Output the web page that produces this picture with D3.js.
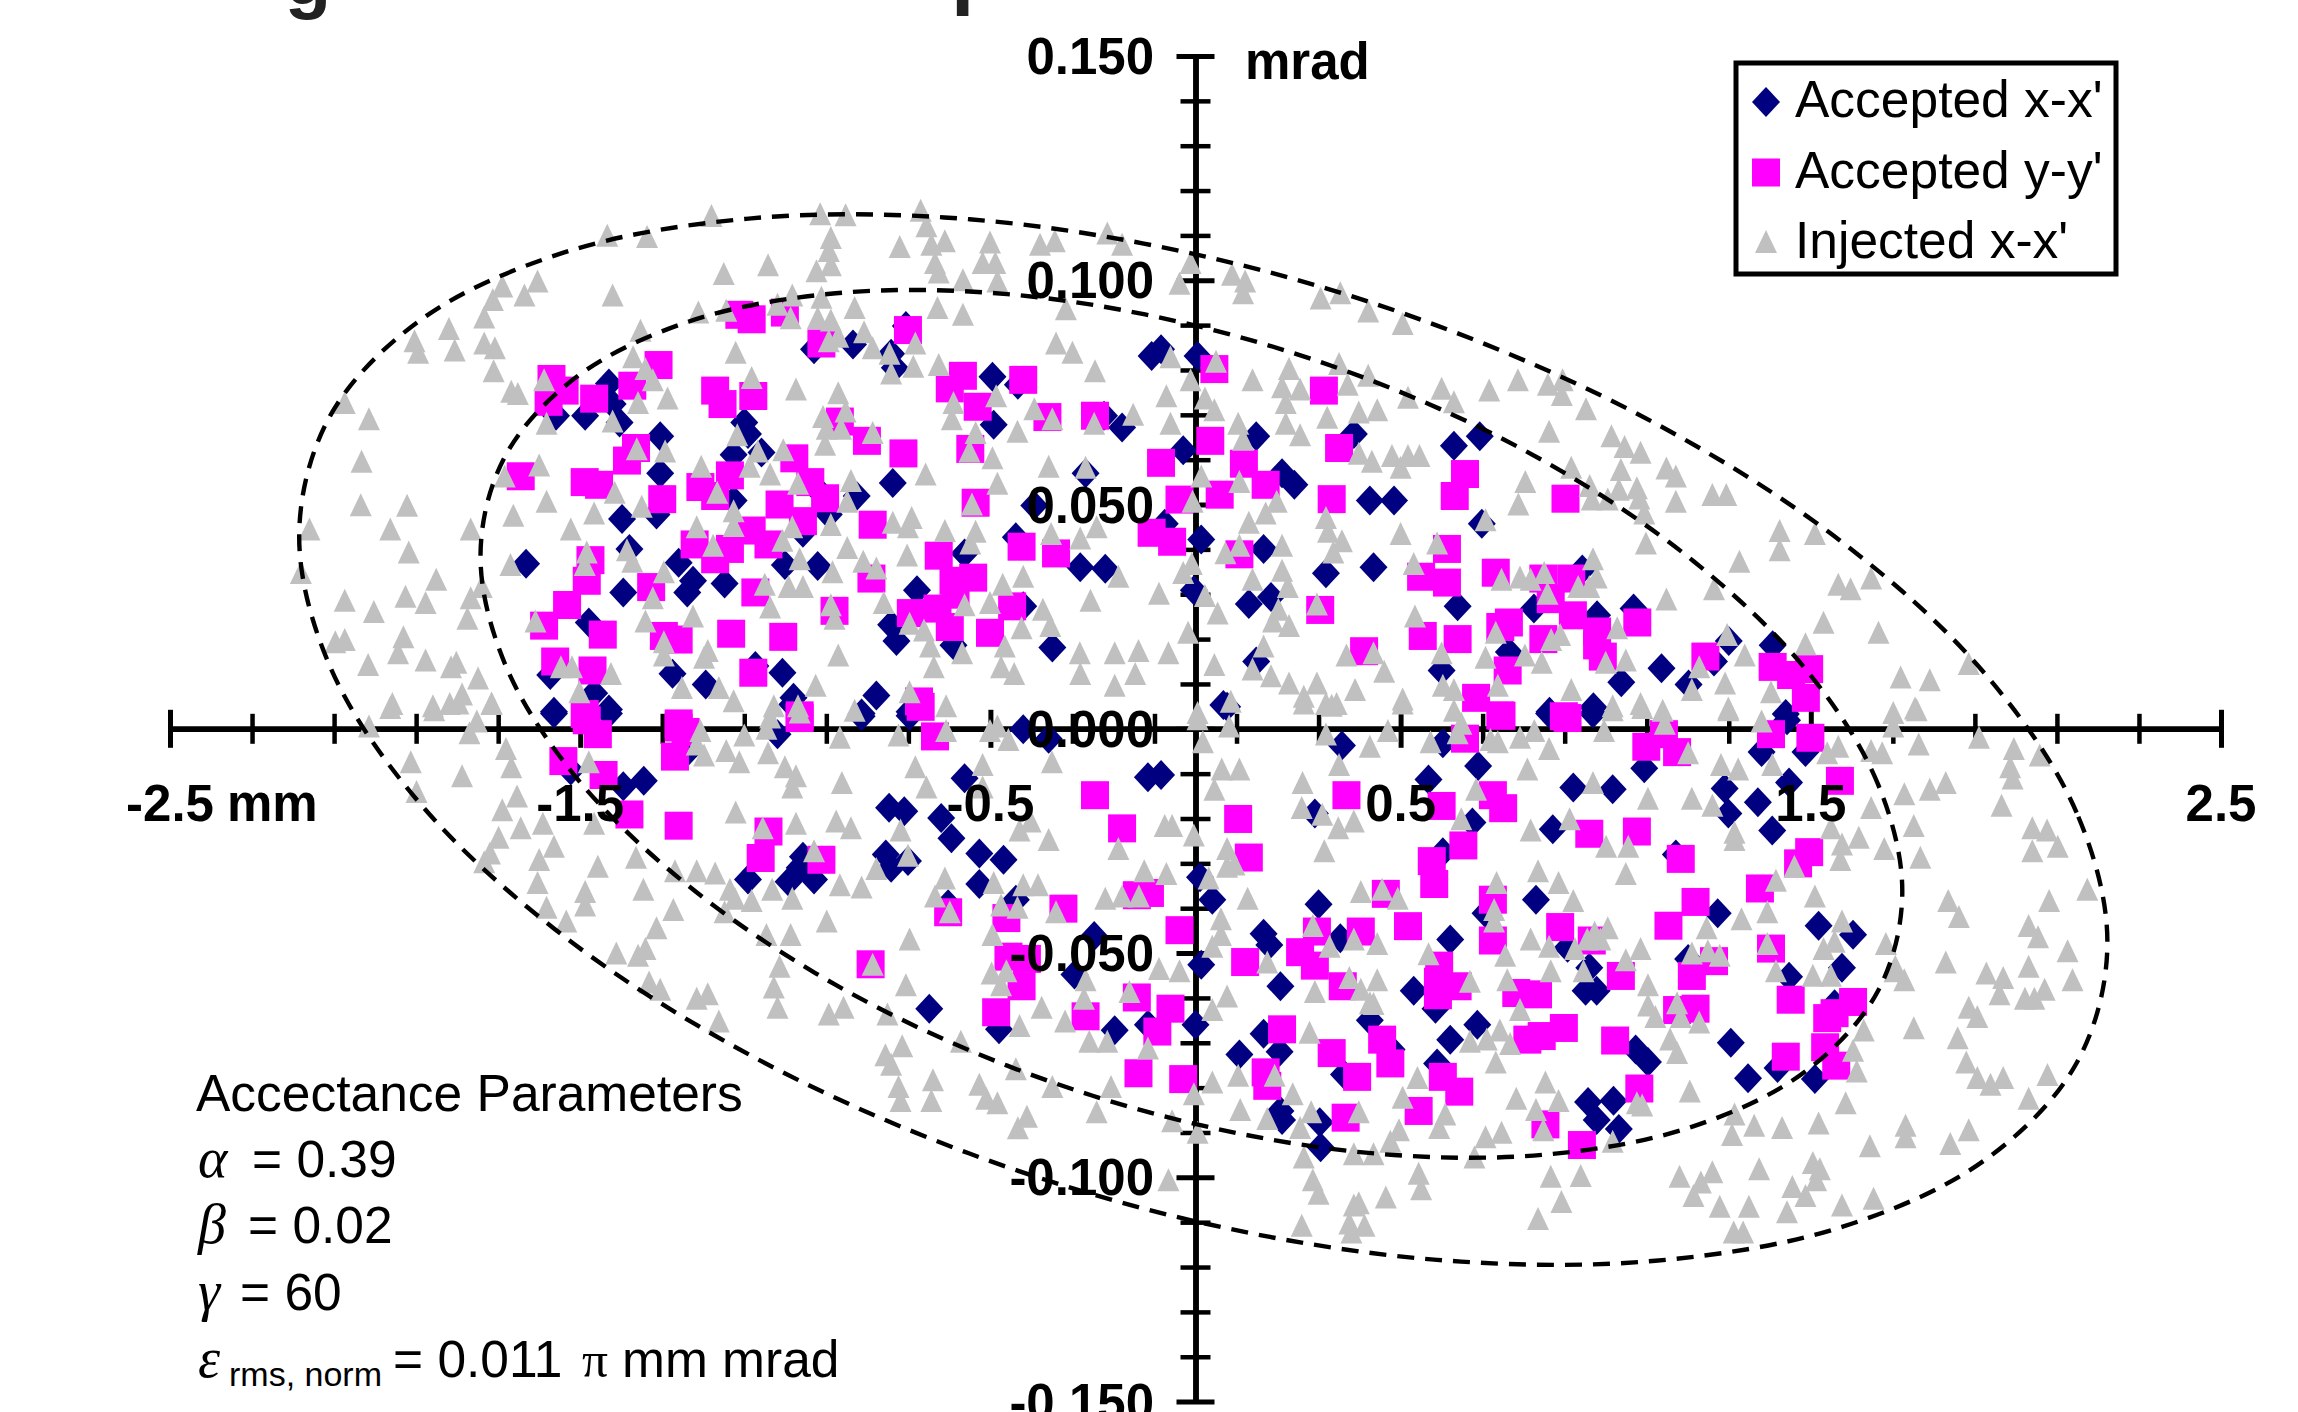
<!DOCTYPE html>
<html>
<head>
<meta charset="utf-8">
<script src="https://cdnjs.cloudflare.com/ajax/libs/d3/7.8.5/d3.min.js"></script>
<style>
  html, body { margin: 0; padding: 0; background: #fff; }
  svg { display: block; }
  text { font-family: "Liberation Sans", Arial, sans-serif; fill: #000; }
  .greek { font-family: "Liberation Serif", serif; font-style: italic; font-size: 56px; }
</style>
</head>
<body>
<div id="chart-area"></div>
<script>
// x in mm, y as labelled on the vertical axis
const xMajorTicks = [-2.5, -1.5, -0.5, 0.5, 1.5, 2.5];
const xMinorTicks = [-2.3, -2.1, -1.9, -1.7, -1.3, -1.1, -0.9, -0.7, -0.3, -0.1, 0.1, 0.3, 0.7, 0.9, 1.1, 1.3, 1.7, 1.9, 2.1, 2.3];
const yMajorTicks = [0.15, 0.1, 0.05, 0, -0.05, -0.1, -0.15];
const yMinorTicks = [0.14, 0.13, 0.12, 0.11, 0.09, 0.08, 0.07, 0.06, 0.04, 0.03, 0.02, 0.01, -0.01, -0.02, -0.03, -0.04, -0.06, -0.07, -0.08, -0.09, -0.11, -0.12, -0.13, -0.14];

const legendLabels = ["Accepted x-x'", "Accepted y-y'", "Injected x-x'"];

const acceptedXX = [
[-.084,.0846],[.005,.0831],[.148,.0652],[-.030,.0621],[.386,.0657],[.211,.0570],[.241,.0544],[.425,.0509],[.484,.0509],[.693,.0652],[.630,.0631],[-.075,.0457],[.014,.0422],[.166,.0401],[.698,.0457],[.434,.0360],[.318,.0347],[.130,.0278],[.184,.0294],[-.004,.0309],[.639,.0273],[.825,.0268],[.943,.0355],[.979,.0253],[1.068,.0268],[.764,.0171],[.600,.0130],[.148,.0150],[1.136,.0135],[1.038,.0104],[1.202,.0099],[1.300,.0196],[1.264,.0150],[1.407,.0186],[.068,.0053],[.863,.0038],[.970,.0048],[1.439,.0033],
[-.706,.0898],[-.835,.0857],[-.930,.0846],[-.742,.0836],[-.733,.0805],[-.495,.0785],[-.433,.0767],[-.223,.0698],[-.179,.0672],[-1.430,.0770],[-1.421,.0724],[-1.559,.0698],[-1.488,.0698],[-1.404,.0683],[-1.305,.0652],[-1.100,.0683],[-1.091,.0657],[-1.126,.0611],[-1.058,.0616],[-.492,.0678],[-1.305,.0570],[-.738,.0548],[-.826,.0519],[-.912,.0524],[-.268,.0570],[-1.126,.0509],[-1.398,.0468],[-1.314,.0478],[-.894,.0478],[-.393,.0498],[-.957,.0437],[-.438,.0427],[-1.632,.0368],[-1.380,.0401],[-.563,.0391],[-1.001,.0365],[-.921,.0363],[-.281,.0360],[-.220,.0357],[-1.260,.0370],[-1.225,.0330],[-1.239,.0304],[-1.395,.0304],[-1.148,.0324],[-.679,.0309],[-.420,.0273],[-1.479,.0237],[-.742,.0232],[-.729,.0196],[-.590,.0186],[-.349,.0181],[-1.194,.0099],[-1.275,.0123],[-1.007,.0125],[-1.073,.0140],[-1.573,.0120],[-1.466,.0079],[-.778,.0074],[-.980,.0069],[-1.430,.0043],[-1.564,.0038],[-.814,.0028],[-.697,.0038],[-.107,.0831],
[-1.564,.0034],[-1.430,.0034],[-.983,.0054],[-.814,.0034],[-.697,.0029],[-1.019,-.0012],[-1.234,-.0047],[-.420,-.0001],[-.358,-.0022],[-1.523,-.0093],[-1.345,-.0116],[-1.395,-.0128],[-.563,-.0110],[-.747,-.0176],[-.710,-.0184],[-.620,-.0199],[-.595,-.0244],[-.527,-.0278],[-.468,-.0292],[-.755,-.0280],[-.701,-.0295],[-.742,-.0310],[-.957,-.0285],[-.965,-.0310],[-.930,-.0336],[-.992,-.0341],[-1.091,-.0336],[-.527,-.0346],[-.438,-.0381],[-.603,-.0391],[-.247,-.0462],[-.295,-.0548],[-.649,-.0624],[-.479,-.0670],[-.197,-.0672],[-.116,-.0108],[-.116,-.0660],
[.077,.0049],[.357,-.0037],[.603,-.0032],[.689,-.0083],[.568,-.0113],[.291,-.0189],[.921,-.0131],[1.017,-.0135],[.871,-.0224],[.675,-.0209],[1.290,-.0133],[1.371,-.0164],[1.447,-.0120],[1.299,-.0189],[1.406,-.0227],[1.380,-.0052],[1.094,-.0088],[1.487,-.0052],[1.442,.0019],[.969,.0034],[.862,.0034],[.603,-.0275],[1.171,-.0280],[.300,-.0391],[.830,-.0381],[1.273,-.0411],[.707,-.0411],[.011,-.0331],[.041,-.0381],[.166,-.0457],[.180,-.0482],[.014,-.0526],[.621,-.0470],[.353,-.0467],[.207,-.0574],[.532,-.0584],[.585,-.0624],[1.519,-.0439],[1.603,-.0459],[1.576,-.0533],[1.447,-.0553],[1.201,-.0513],[.960,-.0533],[.907,-.0488],[.978,-.0584],[.951,-.0584],[0,-.0660],[.425,-.0650],[.687,-.0660],[.621,-.0693],[.166,-.0680],[.107,-.0726],[.205,-.0720],[.362,-.0771],[.478,-.0715],[.589,-.0746],[1.305,-.0700],[1.073,-.0715],[1.103,-.0743],[1.347,-.0779],[1.419,-.0756],[1.510,-.0781],[1.558,-.0614],[.957,-.0832],[1.019,-.0829],[.978,-.0872],[1.032,-.0892],[.207,-.0852],[.211,-.0872],[.303,-.0877],[.305,-.0933],[-.084,-.0103]
];

const acceptedYY = [
[.046,.0802],[.313,.0754],[.036,.0642],[.350,.0626],[.118,.0591],[-.084,.0593],[.657,.0568],[.171,.0544],[.059,.0522],[-.039,.0511],[.332,.0512],[.632,.0519],[.902,.0513],[.613,.0401],[-.057,.0417],[.107,.0389],[.304,.0265],[.550,.0339],[.613,.0326],[.732,.0348],[.848,.0335],[.916,.0335],[.866,.0289],[.920,.0253],[.764,.0237],[.743,.0227],[.554,.0207],[.639,.0200],[.411,.0173],[.848,.0200],[.979,.0217],[1.077,.0237],[.979,.0186],[.993,.0161],[1.243,.0161],[.761,.0130],[1.407,.0138],[1.496,.0133],[1.452,.0120],[1.488,.0069],[.684,.0069],[.743,.0030],[.898,.0028],
[-1.112,.0923],[-1.082,.0913],[-1.001,.0928],[-.701,.0889],[-.912,.0859],[-1.309,.0811],[-1.570,.0780],[-1.373,.0765],[-1.538,.0754],[-1.466,.0736],[-1.577,.0729],[-1.171,.0754],[-1.153,.0724],[-1.078,.0742],[-.567,.0787],[-.599,.0759],[-.420,.0778],[-.531,.0718],[-.361,.0695],[-.245,.0698],[-.867,.0685],[-.801,.0642],[-.712,.0614],[-.549,.0624],[-.978,.0603],[-1.364,.0626],[-1.386,.0598],[-1.645,.0563],[-1.489,.0550],[-1.454,.0544],[-1.135,.0565],[-1.207,.0539],[-1.300,.0512],[-1.171,.0519],[-.939,.0550],[-.903,.0514],[-1.014,.0500],[-.957,.0463],[-.536,.0504],[-.787,.0455],[-1.082,.0442],[-1.041,.0411],[-1.221,.0411],[-1.135,.0401],[-1.171,.0378],[-.626,.0386],[-.424,.0406],[-.340,.0391],[-.107,.0437],[-1.475,.0376],[-1.484,.0330],[-1.327,.0316],[-.790,.0335],[-1.073,.0304],[-.590,.0330],[-.542,.0337],[-.585,.0299],[-1.532,.0276],[-.880,.0263],[-.447,.0273],[-.694,.0258],[-.629,.0268],[-.599,.0227],[-1.588,.0230],[-1.445,.0210],[-1.296,.0207],[-1.260,.0199],[-1.132,.0212],[-1.005,.0205],[-.501,.0214],[-1.561,.0150],[-1.470,.0130],[-1.078,.0125],[-.674,.0061],[-1.489,.0033],[-1.260,.0012],[-.965,.0030],
[-1.260,.0003],[-1.243,-.0007],[-1.484,.0019],[-1.457,-.0012],[-1.269,-.0062],[-1.541,-.0072],[-1.443,-.0103],[-.965,.0024],[-.635,-.0017],[-.670,.0049],[-1.380,-.0191],[-1.260,-.0216],[-1.041,-.0229],[-1.060,-.0288],[-.912,-.0292],[-.245,-.0148],[-.179,-.0222],[-.143,-.0371],[-.322,-.0401],[-.603,-.0409],[-.461,-.0422],[-.792,-.0525],[-.456,-.0508],[-.411,-.0513],[-.424,-.0574],[-.143,-.0599],[-.486,-.0632],[-.268,-.0641],[-.139,-.0768],
[1.142,-.0012],[1.099,-.0040],[1.174,-.0052],[1.403,-.0012],[1.499,-.0020],[.657,-.0022],[.746,.0029],[.907,.0024],[1.571,-.0116],[.368,-.0148],[.600,-.0172],[.725,-.0148],[.750,-.0177],[.104,-.0201],[.130,-.0287],[.960,-.0234],[1.076,-.0229],[.653,-.0260],[.576,-.0295],[.582,-.0346],[1.183,-.0290],[1.469,-.0300],[1.496,-.0275],[1.376,-.0356],[.464,-.0368],[.725,-.0381],[1.219,-.0386],[1.153,-.0439],[.889,-.0442],[.518,-.0440],[.966,-.0472],[.725,-.0472],[.403,-.0452],[.296,-.0452],[.255,-.0498],[.291,-.0528],[.121,-.0520],[-.039,-.0449],[-.111,-.0366],[1.403,-.0490],[1.264,-.0518],[1.210,-.0551],[1.037,-.0551],[.594,-.0528],[.591,-.0564],[.639,-.0574],[.591,-.0594],[.782,-.0589],[.835,-.0592],[1.451,-.0604],[1.603,-.0609],[1.558,-.0634],[1.540,-.0645],[1.219,-.0624],[1.174,-.0627],[-.061,-.0624],[-.093,-.0675],[.359,-.0574],[.211,-.0670],[.332,-.0723],[.455,-.0693],[.475,-.0746],[.394,-.0776],[.171,-.0766],[.175,-.0796],[-.030,-.0781],[.603,-.0776],[.643,-.0809],[.544,-.0852],[.366,-.0867],[1.023,-.0695],[.898,-.0667],[.844,-.0685],[.809,-.0693],[1.439,-.0731],[1.535,-.0710],[1.562,-.0751],[1.082,-.0802],[.853,-.0882],[.942,-.0928]
];

const injectedXX = [
[-.012,.1036],[.089,.1010],[-.039,.0990],[.121,.0995],[.116,.0969],[.305,.0957],[.353,.0969],[.421,.0928],[.505,.0900],[.350,.0811],[.228,.0800],[.050,.0816],[-.061,.0826],[.139,.0775],[.211,.0759],[.255,.0754],[.371,.0765],[.421,.0785],[-.012,.0775],[-.071,.0739],[.023,.0734],[.046,.0708],[.220,.0724],[.518,.0736],[.600,.0756],[.630,.0726],[.716,.0752],[.786,.0775],[.859,.0765],[.895,.0775],[.893,.0742],[.952,.0710],[.398,.0703],[.443,.0708],[.321,.0691],[.104,.0678],[-.061,.0678],[.220,.0678],[.255,.0652],[.116,.0642],[.862,.0660],[1.014,.0650],[1.046,.0626],[1.085,.0613],[1.037,.0575],[1.148,.0578],[1.171,.0560],[.916,.0580],[.398,.0611],[.430,.0593],[.479,.0606],[.518,.0606],[.546,.0606],[.500,.0580],[.014,.0560],[.107,.0548],[.804,.0548],[.961,.0539],[1.076,.0534],[1.032,.0531],[1.005,.0509],[1.082,.0511],[.966,.0509],[.787,.0498],[1.171,.0504],[1.260,.0519],[1.294,.0519],[-.007,.0504],[.198,.0504],[1.094,.0478],[.171,.0478],[.318,.0468],[.130,.0457],[.323,.0437],[.707,.0463],[1.424,.0439],[1.510,.0432],[.500,.0432],[1.098,.0411],[.589,.0411],[.357,.0416],[.107,.0406],[.211,.0406],[1.424,.0396],[.336,.0391],[.073,.0389],[1.326,.0370],[-.009,.0365],[-.030,.0345],[.211,.0350],[.532,.0365],[.969,.0376],[.746,.0330],[.791,.0335],[.817,.0330],[.850,.0345],[.978,.0335],[.933,.0314],[.960,.0314],[1.567,.0319],[1.597,.0309],[1.647,.0333],[.139,.0330],[-.089,.0299],[.225,.0314],[.858,.0299],[1.264,.0309],[1.148,.0286],[.296,.0275],[.023,.0294],[.202,.0263],[.054,.0255],[.189,.0237],[.228,.0227],[.535,.0248],[1.531,.0234],[-.018,.0212],[-.066,.0166],[.166,.0181],[.046,.0140],[.139,.0130],[.184,.0115],[.732,.0212],[.867,.0196],[.889,.0207],[1.028,.0222],[1.665,.0212],[1.487,.0186],[1.296,.0207],[1.339,.0161],[1.885,.0142],[1.719,.0112],[1.790,.0106],[.434,.0166],[.368,.0161],[.460,.0125],[.600,.0166],[.707,.0156],[.803,.0161],[.844,.0145],[1.000,.0145],[1.049,.0150],[1.228,.0135],[1.291,.0099],[1.210,.0084],[.603,.0094],[.630,.0084],[.737,.0094],[.916,.0084],[.228,.0099],[.296,.0099],[.389,.0084],[.505,.0063],[.264,.0069],[.318,.0053],[.344,.0053],[.086,.0058],[.630,.0038],[1.017,.0048],[1.085,.0053],[1.139,.0038],[1.299,.0043],[1.403,.0079],[1.754,.0043],[1.701,.0033],[.005,.0033],
[-1.180,.1141],[-.915,.1145],[-.853,.1143],[-.670,.1153],[-.656,.1118],[-1.434,.1097],[-1.337,.1094],[-.889,.1092],[-.894,.1063],[-.721,.1072],[-.644,.1077],[-.611,.1085],[-.501,.1082],[-.379,.1077],[-.343,.1085],[-.215,.1102],[-.179,.1077],[-1.042,.1031],[-1.150,.1012],[-.924,.1018],[-.889,.1031],[-.635,.1036],[-.626,.1015],[-.519,.1036],[-.488,.1036],[-.567,.0998],[-.483,.0995],[-1.604,.0995],[-1.690,.0984],[-1.636,.0964],[-1.713,.0954],[-1.734,.0915],[-1.421,.0964],[-.983,.0964],[-.912,.0959],[-1.019,.0943],[-1.144,.0930],[-1.212,.0926],[-.831,.0936],[-.629,.0936],[-.567,.0921],[-.316,.0933],[-.987,.0913],[-.921,.0913],[-.889,.0908],[-.871,.0872],[-.894,.0862],[-.808,.0882],[-.787,.0846],[-.683,.0857],[-.746,.0834],[-.340,.0857],[-.300,.0836],[-.626,.0809],[-.245,.0795],[-.742,.0790],[-.688,.0805],[-1.904,.0862],[-1.895,.0836],[-1.820,.0889],[-1.806,.0841],[-1.734,.0857],[-1.708,.0846],[-1.711,.0795],[-1.353,.0885],[-1.371,.0826],[-1.341,.0800],[-1.323,.0775],[-1.121,.0836],[-1.082,.0780],[-.974,.0754],[-.871,.0746],[-1.668,.0749],[-1.652,.0744],[-1.588,.0775],[-1.359,.0724],[-1.287,.0734],[-.590,.0724],[-.486,.0739],[-.393,.0710],[-.349,.0688],[-.247,.0678],[-.152,.0698],[-.594,.0688],[-.908,.0693],[-.853,.0705],[-.899,.0667],[-.864,.0667],[-.787,.0657],[-.903,.0631],[-.434,.0660],[-.536,.0657],[-1.582,.0678],[-1.421,.0683],[-2.074,.0724],[-2.015,.0688],[-1.117,.0652],[-1.293,.0616],[-1.362,.0621],[-1.005,.0619],[-1.067,.0616],[-.551,.0616],[-.495,.0601],[-.358,.0582],[-.268,.0580],[-1.087,.0582],[-1.205,.0582],[-1.600,.0585],[-1.684,.0560],[-1.037,.0565],[-2.033,.0593],[-.658,.0565],[-.483,.0544],[-.840,.0550],[-1.416,.0524],[-1.582,.0504],[-1.166,.0524],[-.969,.0544],[-1.126,.0483],[-1.350,.0493],[-.849,.0504],[-.545,.0498],[-1.663,.0473],[-1.466,.0478],[-2.035,.0496],[-1.922,.0495],[-.889,.0452],[-.738,.0457],[-.692,.0468],[-.701,.0447],[-.241,.0447],[-.536,.0437],[-.611,.0439],[-.352,.0432],[-.281,.0422],[-2.160,.0442],[-1.963,.0442],[-1.767,.0442],[-1.523,.0442],[-1.216,.0447],[-1.126,.0450],[-.983,.0447],[-1.007,.0417],[-1.176,.0406],[-1.386,.0396],[-1.373,.0370],[-1.484,.0391],[-1.489,.0363],[-1.670,.0363],[-1.918,.0391],[-2.181,.0345],[-1.851,.0330],[-1.740,.0314],[-1.296,.0347],[-.849,.0401],[-.965,.0376],[-.703,.0384],[-.810,.0370],[-.778,.0355],[-.885,.0347],[-.549,.0411],[-.470,.0319],[-.420,.0337],[-1.050,.0319],[-.992,.0314],[-.957,.0314],[-.188,.0337],[-1.926,.0292],[-2.003,.0258],[-2.074,.0283],[-1.877,.0278],[-1.767,.0289],[-1.775,.0243],[-1.323,.0289],[-1.037,.0268],[-.760,.0278],[-.563,.0273],[-.501,.0278],[-.372,.0263],[-.256,.0283],[-.354,.0227],[-.889,.0273],[-.880,.0243],[-1.341,.0237],[-1.225,.0248],[-1.609,.0237],[-.697,.0232],[-.662,.0217],[-.647,.0181],[-.424,.0222],[-.474,.0135],[-.442,.0120],[-2.097,.0191],[-2.074,.0196],[-1.931,.0202],[-1.944,.0166],[-2.017,.0140],[-1.877,.0150],[-1.802,.0145],[-1.815,.0135],[-1.749,.0110],[-.871,.0161],[-1.189,.0171],[-1.296,.0191],[-1.296,.0161],[-1.198,.0156],[-.569,.0166],[-.465,.0181],[-.282,.0166],[-.638,.0135],[-.197,.0166],[-.139,.0171],[-.147,.0120],[-.197,.0094],[-.281,.0120],[-1.425,.0120],[-1.520,.0135],[-1.547,.0135],[-1.252,.0089],[-1.162,.0089],[-.926,.0094],[-.697,.0079],[-1.502,.0079],[-1.958,.0053],[-1.788,.0074],[-1.818,.0053],[-1.859,.0048],[-1.716,.0053],[-1.028,.0048],[-.969,.0048],[-.831,.0038],[-.608,.0048],[-1.037,.0023],
[-2.015,.0003],[-1.963,.0044],[-1.856,.0039],[-1.797,.0054],[-1.716,.0054],[-1.752,.0014],[-1.770,-.0012],[-1.681,-.0047],[-1.668,-.0088],[-1.913,-.0077],[-1.788,-.0108],[-1.899,-.0143],[-1.690,-.0184],[-1.654,-.0153],[-1.126,.0059],[-1.207,-.0007],[-1.100,-.0017],[-1.198,-.0062],[-1.144,-.0052],[-1.112,-.0077],[-1.216,-.0037],[-1.042,-.0057],[-1.046,-.0002],[-.965,.0034],[-.867,-.0022],[-.724,-.0017],[-1.001,-.0088],[-.974,-.0108],[-.983,-.0133],[-.862,-.0123],[-.683,-.0088],[-.656,-.0133],[-.519,-.0083],[-.519,-.0133],[-.350,-.0077],[-.483,.0003],[-.608,-.0007],[-.501,-.0007],[-.456,-.0027],[-1.121,-.0189],[-.876,-.0209],[-.840,-.0224],[-.719,-.0229],[-1.645,-.0224],[-1.591,-.0214],[-1.479,-.0077],[-1.466,-.0214],[-1.699,-.0245],[-1.720,-.0280],[-1.734,-.0300],[-1.564,-.0265],[-1.600,-.0295],[-1.457,-.0310],[-1.604,-.0346],[-1.488,-.0366],[-1.488,-.0396],[-1.582,-.0401],[-1.534,-.0432],[-1.346,-.0361],[-1.364,-.0290],[-1.269,-.0320],[-1.273,-.0406],[-1.314,-.0447],[-1.341,-.0493],[-1.412,-.0503],[-1.359,-.0508],[-1.332,-.0568],[-1.305,-.0584],[-1.189,-.0594],[-1.216,-.0604],[-1.162,-.0655],[-1.216,-.0320],[-1.171,-.0325],[-1.135,-.0361],[-1.123,-.0381],[-1.082,-.0386],[-.983,-.0381],[-1.032,-.0361],[-1.148,-.0411],[-1.046,-.0462],[-.987,-.0462],[-.899,-.0432],[-.930,-.0275],[-1.055,-.0224],[-.974,-.0214],[-.867,-.0351],[-.814,-.0356],[-.778,-.0315],[-.701,-.0285],[-.611,-.0336],[-.635,-.0376],[-.599,-.0411],[-.492,-.0346],[-.420,-.0351],[-.384,-.0351],[-.434,-.0401],[-.474,-.0396],[-.340,-.0411],[-.220,-.0381],[-.179,-.0376],[-.138,-.0376],[-.697,-.0472],[-.495,-.0462],[-1.014,-.0533],[-1.028,-.0579],[-1.019,-.0624],[-.706,-.0574],[-.787,-.0528],[-.497,-.0548],[-.461,-.0543],[-.474,-.0574],[-.272,-.0604],[-.375,-.0624],[-.318,-.0655],[-.161,-.0589],[-.268,-.0563],[-.215,-.0700],[-.259,-.0700],[-.116,-.0715],[-.894,-.0639],[-.858,-.0624],[-.751,-.0639],[-.715,-.0710],[-.756,-.0730],[-.742,-.0751],[-.724,-.0801],[-.719,-.0832],[-.644,-.0832],[-.640,-.0786],[-.572,-.0700],[-.527,-.0796],[-.510,-.0827],[-.483,-.0837],[-.433,-.0893],[-.411,-.0867],[-.438,-.0761],[-.349,-.0801],[-.206,-.0801],[-.241,-.0857],[-.429,-.0665],[-.358,-.0250],[-.402,-.0209],[-.429,-.0229],[-.188,-.0270],[-.125,-.0320],
[.005,.0019],[.082,.0003],[.018,-.0032],[.264,.0054],[.332,.0049],[.505,.0054],[.318,-.0015],[.425,-.0042],[.469,-.0007],[.573,-.0032],[.648,.0009],[.639,-.0012],[.719,-.0027],[.737,-.0032],[.791,-.0022],[.826,-.0007],[.862,-.0047],[.996,-.0007],[1.089,.0044],[1.017,.0039],[1.144,.0009],[1.299,.0039],[1.380,.0014],[1.201,-.0057],[1.281,-.0083],[1.323,-.0093],[1.406,-.0083],[1.540,-.0057],[1.567,-.0042],[1.647,-.0052],[1.674,-.0057],[1.701,.0003],[1.758,.0039],[1.763,-.0037],[1.910,-.0022],[1.995,-.0047],[2.058,-.0062],[1.986,-.0088],[1.992,-.0113],[1.829,-.0123],[1.790,-.0138],[1.728,-.0148],[1.965,-.0174],[2.040,-.0224],[2.076,-.0229],[2.102,-.0265],[2.040,-.0275],[1.679,-.0270],[1.751,-.0219],[1.767,-.0290],[1.647,-.0179],[1.617,-.0245],[1.549,-.0224],[1.576,-.0260],[1.728,-.0563],[1.704,-.0543],[1.829,-.0523],[1.572,-.0295],[1.460,-.0310],[1.415,-.0341],[.064,-.0093],[.107,-.0093],[.046,-.0138],[.261,-.0123],[.350,-.0083],[-.075,-.0219],[-.057,-.0219],[-.004,-.0240],[.077,-.0270],[.077,-.0310],[.095,-.0305],[.032,-.0336],[-.071,-.0326],[.127,-.0381],[.062,-.0427],[.062,-.0462],[.259,-.0179],[.309,-.0194],[.348,-.0224],[.386,-.0209],[.314,-.0275],[.809,-.0093],[.684,-.0138],[.648,-.0204],[.817,-.0229],[.912,-.0204],[.969,-.0123],[1.103,-.0158],[1.210,-.0158],[1.260,-.0174],[1.314,-.0234],[1.314,-.0250],[1.001,-.0265],[1.055,-.0265],[1.049,-.0326],[.835,-.0320],[.885,-.0346],[.734,-.0346],[.921,-.0386],[.728,-.0406],[.728,-.0432],[.403,-.0366],[.493,-.0381],[.455,-.0361],[.327,-.0488],[.286,-.0442],[.386,-.0472],[.443,-.0482],[.568,-.0505],[.175,-.0523],[.041,-.0488],[-.039,-.0543],[-.089,-.0538],[.077,-.0599],[.041,-.0629],[.291,-.0589],[.375,-.0558],[.443,-.0563],[.403,-.0584],[.434,-.0616],[.669,-.0566],[.760,-.0563],[.791,-.0629],[.817,-.0472],[.755,-.0508],[.862,-.0488],[.925,-.0493],[.955,-.0472],[.987,-.0472],[1.005,-.0447],[.973,-.0457],[.866,-.0543],[.946,-.0543],[1.103,-.0574],[1.085,-.0493],[1.049,-.0518],[1.210,-.0503],[1.249,-.0498],[1.278,-.0508],[1.394,-.0482],[1.415,-.0543],[1.505,-.0553],[1.549,-.0553],[1.531,-.0493],[1.558,-.0477],[1.576,-.0432],[1.246,-.0447],[1.331,-.0427],[1.394,-.0411],[1.510,-.0376],[1.683,-.0482],[1.706,-.0533],[1.928,-.0548],[1.969,-.0558],[1.960,-.0594],[2.031,-.0533],[2.070,-.0584],[2.022,-.0604],[2.045,-.0604],[2.126,-.0498],[2.138,-.0563],[2.031,-.0442],[2.054,-.0467],[2.081,-.0386],[1.835,-.0386],[1.861,-.0422],[2.174,-.0361],[1.751,-.0670],[1.629,-.0675],[1.885,-.0624],[1.906,-.0645],[1.858,-.0692],[1.879,-.0746],[1.906,-.0781],[1.938,-.0796],[1.969,-.0781],[2.077,-.0774],[2.031,-.0827],[1.603,-.0720],[1.612,-.0766],[1.103,-.0619],[1.121,-.0645],[1.174,-.0614],[1.183,-.0645],[1.228,-.0657],[1.157,-.0695],[1.174,-.0725],[.742,-.0675],[.710,-.0695],[.669,-.0700],[.767,-.0705],[.732,-.0746],[.541,-.0781],[.425,-.0614],[.278,-.0680],[.237,-.0817],[.109,-.0852],[.041,-.0791],[.104,-.0776],[.193,-.0776],[-.004,-.0817],[.505,-.0825],[.609,-.0862],[.398,-.0857],[.282,-.0857],[.255,-.0892],[.496,-.0897],[.594,-.0892],[.175,-.0872],[-.057,-.0877],[.005,-.0903],[.853,-.0791],[.782,-.0827],[.830,-.0852],[.885,-.0832],[.848,-.0897],[.746,-.0903],[.707,-.0913],[.680,-.0958],[1.017,-.0923],[1.076,-.0837],[1.089,-.0842],[1.205,-.0811],[1.314,-.0862],[1.362,-.0887],[1.430,-.0892],[1.308,-.0908],[1.519,-.0882],[1.585,-.0837],[1.644,-.0933],[1.731,-.0887],[1.731,-.0913],[1.840,-.0928],[1.885,-.0897],[.264,-.0958],[.386,-.0951],[.434,-.0951],[.475,-.0923],[.544,-.0994],[.550,-.1029],[.286,-.1009],[.300,-.1039],[-.066,-.1009],[.386,-.1065],[.398,-.1060],[.464,-.1047],[.866,-.1001],[.939,-.0999],[.892,-.1057],[.835,-.1095],[.259,-.1110],[.375,-.1105],[.380,-.1125],[.412,-.1110],[1.180,-.1001],[1.260,-.0991],[1.232,-.1014],[1.214,-.1044],[1.374,-.0984],[1.505,-.0970],[1.522,-.0984],[1.513,-.1009],[1.455,-.1024],[1.487,-.1044],[1.576,-.1065],[1.653,-.1050],[1.278,-.1068],[1.349,-.1068],[1.442,-.1080],[1.312,-.1125],[1.335,-.1125]
];

const acceptanceEllipse = [
[1.723,-.0367],[1.664,-.0124],[1.491,.0129],[1.215,.0373],[.857,.0593],[.439,.0773],[-.010,.0901],[-.459,.0969],[-.877,.0971],[-1.235,.0908],[-1.511,.0783],[-1.684,.0606],[-1.743,.0389],[-1.684,.0146],[-1.511,-.0107],[-1.235,-.0351],[-.877,-.0571],[-.459,-.0751],[-.010,-.0879],[.439,-.0947],[.857,-.0949],[1.215,-.0886],[1.491,-.0761],[1.664,-.0584]
];

const injectedEllipse = [
[2.223,-.0482],[2.148,-.0187],[1.928,.0119],[1.578,.0415],[1.121,.0681],[.589,.0899],[.019,.1054],[-.551,.1136],[-1.083,.1138],[-1.539,.1062],[-1.890,.0911],[-2.110,.0697],[-2.185,.0434],[-2.110,.0139],[-1.890,-.0167],[-1.539,-.0463],[-1.083,-.0729],[-.551,-.0947],[.019,-.1102],[.589,-.1184],[1.121,-.1186],[1.578,-.1110],[1.928,-.0959],[2.148,-.0745]
];

const width = 2298, height = 1412;

const diamondPath = "M0,-15L14,0L0,15L-14,0Z";
const squarePath = "M-14,-14H14V14H-14Z";
const trianglePath = "M0,-13L11,10L-11,10Z";

const svg = d3.select("#chart-area")
  .append("svg")
    .attr("width", width)
    .attr("height", height);

// Scales
const x = d3.scaleLinear().domain([-2.5, 2.5]).range([170, 2221]);
const y = d3.scaleLinear().domain([0.15, -0.15]).range([56, 1401.6]);

// Cropped title: only the descenders are left at the top edge
svg.append("text").attr("x", 308).attr("y", 4).attr("text-anchor", "middle")
  .attr("font-size", 76).attr("font-weight", "bold").style("fill", "#222").text("g");
svg.append("text").attr("x", 951).attr("y", -1).attr("font-size", 84)
  .attr("font-weight", "bold").style("fill", "#222").text("p");

// Axes, crossing at zero
function drawAxis(axis, transform, width) {
  const g = svg.append("g").attr("transform", transform).call(axis);
  g.select(".domain").attr("stroke", "#000").attr("stroke-width", 5.5);
  g.selectAll(".tick line")
    .attr("stroke", "#000")
    .attr("stroke-width", width);
  g.selectAll("text").remove();
  return g;
}

const xAxisMinor = d3.axisBottom(x).tickValues(xMinorTicks).tickSizeOuter(0).tickFormat("");
const xAxisMajor = d3.axisBottom(x).tickValues(xMajorTicks).tickSizeOuter(0).tickFormat("");
const yAxisMinor = d3.axisLeft(y).tickValues(yMinorTicks).tickSizeOuter(0).tickFormat("");
const yAxisMajor = d3.axisLeft(y).tickValues(yMajorTicks).tickSizeOuter(0).tickFormat("");

const xTransform = "translate(0," + y(0) + ")";
const yTransform = "translate(" + x(0) + ",0)";

drawAxis(xAxisMinor, xTransform, 4.5).selectAll(".tick line").attr("y1", -15).attr("y2", 15);
drawAxis(xAxisMajor, xTransform, 5).selectAll(".tick line").attr("y1", -19).attr("y2", 19);
drawAxis(yAxisMinor, yTransform, 4.5).selectAll(".tick line").attr("x1", -15).attr("x2", 15);
drawAxis(yAxisMajor, yTransform, 5).selectAll(".tick line").attr("x1", -19).attr("x2", 19);

// Markers, in series order
function drawSeries(data, path, color, name) {
  svg.append("g").attr("class", name)
    .selectAll("path")
    .data(data)
    .enter()
    .append("path")
      .attr("d", path)
      .attr("fill", color)
      .attr("transform", d => "translate(" + x(d[0]) + "," + y(d[1]) + ")");
}

drawSeries(acceptedXX, diamondPath, "#000080", "accepted-xx");
drawSeries(acceptedYY, squarePath, "#ff00ff", "accepted-yy");
drawSeries(injectedXX, trianglePath, "#c0c0c0", "injected-xx");

// Dashed ellipses
const ellipseLine = d3.line()
  .x(d => x(d[0]))
  .y(d => y(d[1]))
  .curve(d3.curveCatmullRomClosed);

[acceptanceEllipse, injectedEllipse].forEach(function(points) {
  svg.append("path")
    .attr("d", ellipseLine(points))
    .attr("fill", "none")
    .attr("stroke", "#000")
    .attr("stroke-width", 4.4)
    .attr("stroke-dasharray", "17,11");
});

// Tick labels
const tickFont = 51;

svg.selectAll(".x-label")
  .data(xMajorTicks)
  .enter()
  .append("text")
    .attr("class", "x-label")
    .attr("x", d => x(d))
    .attr("y", 821)
    .attr("text-anchor", "middle")
    .attr("font-size", tickFont)
    .attr("font-weight", "bold")
    .text(d => String(d.toFixed(1)));

svg.selectAll(".y-label")
  .data(yMajorTicks)
  .enter()
  .append("text")
    .attr("class", "y-label")
    .attr("x", 1154)
    .attr("y", d => y(d) + 18)
    .attr("text-anchor", "end")
    .attr("font-size", tickFont)
    .attr("font-weight", "bold")
    .text(d => d.toFixed(3));

svg.append("text").attr("x", 227).attr("y", 821)
  .attr("font-size", tickFont).attr("font-weight", "bold").text("mm");
svg.append("text").attr("x", 1245).attr("y", 79)
  .attr("font-size", tickFont).attr("font-weight", "bold").text("mrad");

// Legend
const legend = svg.append("g").attr("class", "legend");
legend.append("rect")
  .attr("x", 1736).attr("y", 63)
  .attr("width", 380).attr("height", 211)
  .attr("fill", "#fff")
  .attr("stroke", "#000")
  .attr("stroke-width", 5);

const legendPaths = [diamondPath, squarePath, trianglePath];
const legendColors = ["#000080", "#ff00ff", "#c0c0c0"];

legendLabels.forEach(function(label, index) {
  let legendRow = legend.append("g")
    .attr("transform", "translate(0," + (index * 70.5) + ")");
  legendRow.append("path")
    .attr("d", legendPaths[index])
    .attr("fill", legendColors[index])
    .attr("transform", "translate(1766,102)");
  legendRow.append("text")
    .attr("x", 1795)
    .attr("y", 117)
    .attr("font-size", 51.5)
    .text(label);
});

// Acceptance parameters
const notes = svg.append("g").attr("class", "notes").attr("font-size", 51.5);

notes.append("text").attr("x", 196).attr("y", 1111).text("Accectance Parameters");

function paramLine(symbol, rest, baseline, restX) {
  let line = notes.append("text").attr("x", 198).attr("y", baseline);
  line.append("tspan").attr("class", "greek").text(symbol);
  line.append("tspan").attr("x", restX).text(rest);
}
paramLine("\u03b1", "= 0.39", 1177, 252);
paramLine("\u03b2", "= 0.02", 1243, 248);
paramLine("\u03b3", "= 60", 1310, 240);

const emittance = notes.append("text").attr("x", 198).attr("y", 1377);
emittance.append("tspan").attr("class", "greek").text("\u03b5");
emittance.append("tspan").attr("x", 229).attr("dy", 9).attr("font-size", 34).text("rms, norm");
emittance.append("tspan").attr("x", 393).attr("dy", -9).text("= 0.011");
emittance.append("tspan").attr("x", 582).style("font-family", '"Liberation Serif", serif').text("\u03c0");
emittance.append("tspan").attr("x", 622).text("mm mrad");
</script>
</body>
</html>
